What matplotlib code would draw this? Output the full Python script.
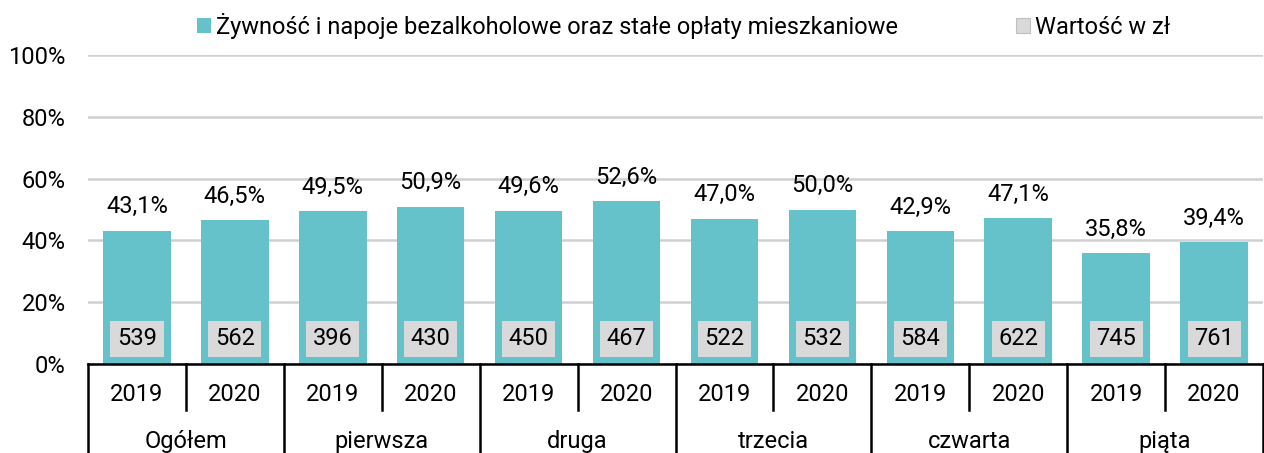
import matplotlib.pyplot as plt
from matplotlib.patches import Patch
import matplotlib.transforms as mtransforms

plt.rcParams['font.family'] = ['Roboto', 'DejaVu Sans']

# Data
groups = ["Ogółem", "pierwsza", "druga", "trzecia", "czwarta", "piąta"]
years = ["2019", "2020"]
shares = [43.1, 46.5, 49.5, 50.9, 49.6, 52.6, 47.0, 50.0, 42.9, 47.1, 35.8, 39.4]
values_zl = [539, 562, 396, 430, 450, 467, 522, 532, 584, 622, 745, 761]

teal = "#66C2CA"
grey_box = "#D9D9D9"
fs = 17

fig = plt.figure(figsize=(12.64, 4.53), dpi=100)
ax = fig.add_axes([88 / 1264, 89 / 453, 1175 / 1264, 309 / 453])

x = list(range(len(shares)))
ax.bar(x, shares, width=0.69, color=teal, zorder=2)

# percentage labels above bars, value boxes inside bars
for xi, s, v in zip(x, shares, values_zl):
    ax.annotate(f"{s:.1f}%".replace(".", ","), (xi, s), xytext=(0, 9),
                textcoords="offset points", ha="center", va="bottom", fontsize=fs)
    ax.text(xi, 8.2, str(v), ha="center", va="center", fontsize=fs, zorder=3,
            bbox=dict(boxstyle="square,pad=0.28", fc=grey_box, ec="none"))

ax.set_xlim(-0.5, len(shares) - 0.5)
ax.set_ylim(0, 100)
ax.set_yticks([0, 20, 40, 60, 80, 100])
ax.set_yticklabels([f"{t}%" for t in [0, 20, 40, 60, 80, 100]], fontsize=fs)
ax.tick_params(axis="y", length=0, pad=16)
ax.tick_params(axis="x", length=0, labelbottom=False)
ax.grid(axis="y", color="#D0D0D0", lw=1.8, zorder=0)
for sp in ["top", "right", "left"]:
    ax.spines[sp].set_visible(False)
ax.spines["bottom"].set_color("black")
ax.spines["bottom"].set_linewidth(1.8)

# two-level category axis
trans = mtransforms.blended_transform_factory(ax.transData, ax.transAxes)
for g in range(len(groups) + 1):
    xb = g * 2 - 0.5
    ax.plot([xb, xb], [0, -0.29], color="black", lw=1.8, transform=trans, clip_on=False)
for g, name in enumerate(groups):
    ax.plot([g * 2 + 0.5] * 2, [0, -0.15], color="black", lw=1.8, transform=trans, clip_on=False)
    ax.text(g * 2 + 0.5, -0.25, name, ha="center", va="center", fontsize=fs, transform=trans)
    for k, yr in enumerate(years):
        ax.text(g * 2 + k, -0.10, yr, ha="center", va="center", fontsize=fs, transform=trans)

handles = [Patch(fc=teal, ec="none"), Patch(fc=grey_box, ec="#BFBFBF", lw=0.8)]
labels = ["Żywność i napoje bezalkoholowe oraz stałe opłaty mieszkaniowe", "Wartość w zł"]
fig.legend(handles, labels, loc="center", bbox_to_anchor=(0.541, 0.943), ncol=2, frameon=False,
           fontsize=fs, handlelength=0.6, handleheight=0.6, handletextpad=0.2, columnspacing=5.0)

fig.savefig("out.png", dpi=100)
